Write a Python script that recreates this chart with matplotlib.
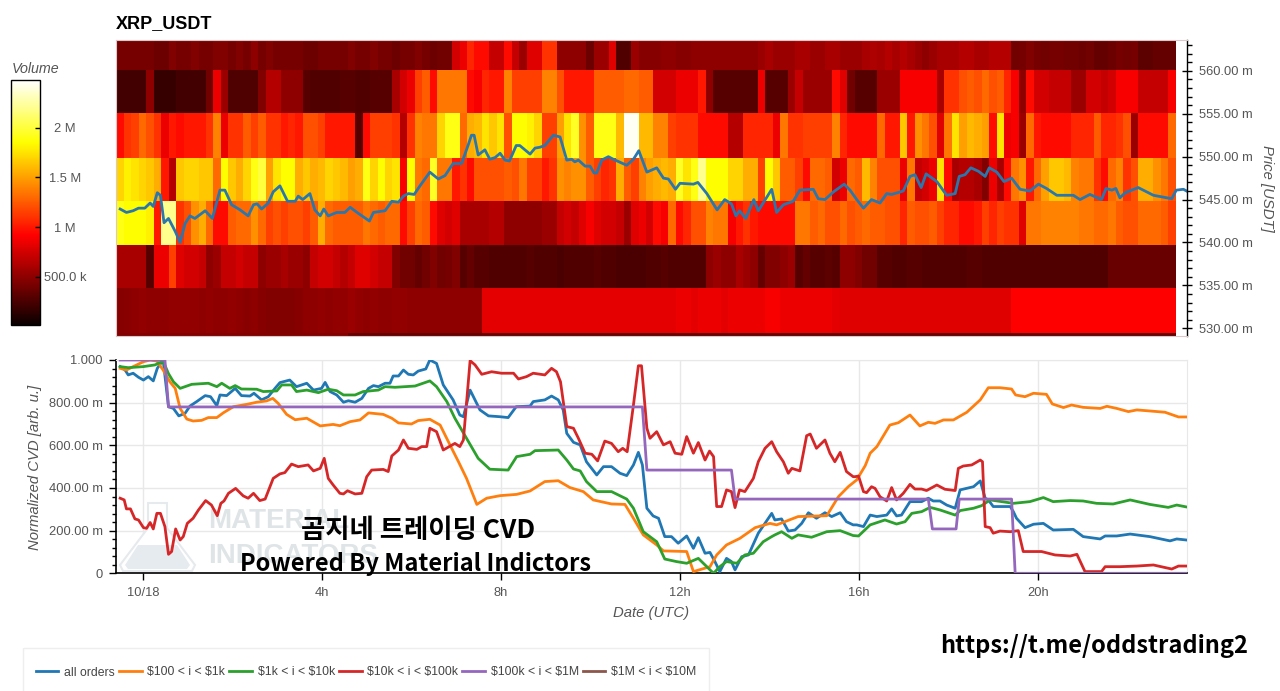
import numpy as np
import matplotlib
matplotlib.use("Agg")
import matplotlib.pyplot as plt
from matplotlib.patches import Polygon, Rectangle
from matplotlib.ticker import MultipleLocator

plt.rcParams['font.family'] = ['Liberation Sans', 'DejaVu Sans']

W, H = 1280, 691

# traded volume per 10 minute column, millions, one list per price band
vol_560 = [.42,.42,.42,.42,.42,.38,.38,.45,.42,.42,
           .45,.42,.42,.45,.45,.42,.45,.42,.5,.42,
           .45,.42,.42,.42,.42,.38,.38,.42,.42,.42,
           .42,.45,.42,.42,.45,.42,.42,.38,.42,.42,
           .45,.42,.38,.4,.4,.75,.85,1.05,.95,.95,
           .7,.7,.95,.7,.55,.8,.8,1.1,1.1,.5,
           .5,.5,.5,.38,.55,.55,.8,.28,.28,.55,
           .47,.47,.47,.5,.5,.47,.47,.5,.5,.5,
           .5,.5,.5,.5,.5,.5,.55,.6,.55,.55,
           .55,.6,.6,.55,.55,.6,.6,.55,.55,.55,
           .6,.62,.6,.65,.6,.65,.6,.55,.5,.55,
           .6,.6,.6,.65,.65,.6,.6,.65,.65,.65,
           .4,.42,.45,.42,.4,.42,.42,.4,.4,.38,
           .4,.35,.35,.38,.42,.4,.42,.32,.32,.35,.35,.35]
vol_555 = [.22,.22,.22,.22,.5,.18,.18,.18,.22,.22,
           .22,.22,.4,.85,.55,.27,.27,.27,.27,.45,
           .65,.65,.5,.5,.5,.3,.28,.28,.28,.28,
           .3,.3,.28,.28,.3,.3,.3,.6,.75,.85,
           1.15,1.25,.95,1.35,1.35,1.35,1.35,.95,.9,1.05,
           1.0,1.0,1.4,1.15,1.15,1.15,1.15,1.4,1.4,1.2,
           1.0,1.0,1.0,1.0,1.25,1.25,1.25,1.25,1.3,1.3,
           1.25,1.25,.75,.75,.75,.85,.85,.85,1.0,.5,
           .3,.3,.3,.3,.3,.3,.85,.3,.3,.3,
           .55,.7,.55,.55,.55,.55,.95,.8,.4,.3,
           .3,.3,.55,.55,.55,.9,.9,.9,.9,.9,
           .6,1.1,1.1,1.2,1.25,1.2,1.3,1.2,1.25,1.05,
           .9,.5,.95,.75,.75,.7,.7,.7,.55,.55,
           .75,.75,.7,.75,.9,.9,.9,.7,.7,.7,.7,.9]
vol_550 = [.95,1.1,1.15,1.3,1.2,1.1,.85,1.0,.95,1.0,
           1.0,1.0,1.1,1.4,.85,1.1,1.1,1.25,1.15,1.25,
           1.1,1.1,1.0,1.05,1.0,1.2,1.2,1.15,1.0,1.0,
           1.0,1.0,.3,.95,1.15,1.15,1.15,1.1,.65,1.1,
           1.4,1.35,1.35,1.7,1.9,1.9,1.3,1.55,1.6,1.75,
           1.65,1.75,1.2,1.85,1.85,1.8,1.7,1.15,1.15,1.5,
           1.75,1.95,1.45,1.25,1.9,1.9,1.9,1.6,2.45,2.45,
           1.6,1.6,1.4,1.4,1.15,1.1,1.1,1.1,.95,.95,
           .95,.95,.65,.65,1.05,1.05,1.05,1.05,.85,1.35,
           1.1,1.1,1.15,1.15,1.15,1.15,1.4,1.05,.95,.95,
           .95,.95,1.3,1.0,1.0,1.65,1.0,1.45,1.35,1.2,
           .8,1.35,1.75,1.5,1.6,1.55,1.5,.95,1.75,.85,
           .9,.55,1.3,1.0,.95,.95,.95,.95,1.05,1.05,
           1.05,1.25,1.05,1.05,1.1,1.2,.55,.95,.95,.95,.95,1.3]
vol_545 = [1.7,1.8,1.75,1.7,1.65,1.55,1.0,.65,1.65,1.7,
           1.7,1.65,1.65,1.3,1.85,1.65,1.55,1.7,1.9,2.0,
           1.5,1.75,1.85,1.85,1.55,1.65,1.55,1.6,1.7,1.65,
           1.6,1.5,1.55,1.9,1.7,1.85,1.7,1.75,.9,1.85,
           1.35,1.3,1.95,1.35,1.35,1.0,1.1,.95,1.2,1.2,
           1.2,1.2,1.25,1.2,1.35,1.15,1.15,1.0,1.1,1.45,
           1.4,1.45,1.45,1.25,1.15,1.05,1.1,1.55,1.25,1.15,
           1.4,1.5,1.55,1.6,1.55,1.95,1.75,1.9,2.2,1.85,
           1.85,1.85,1.7,1.7,1.55,1.55,1.15,1.85,1.65,1.25,
           1.25,1.15,.95,1.3,1.3,1.25,.75,.85,1.3,1.25,
           1.6,1.4,1.2,1.2,1.2,.85,1.35,.7,.75,.85,
           1.75,.95,.6,.65,.65,.6,.45,.85,.6,.95,
           1.35,1.45,1.0,1.3,1.5,1.65,1.65,1.6,1.4,1.35,
           1.35,1.1,.95,1.3,1.4,1.1,1.2,1.55,1.55,1.45,1.35,1.2]
vol_540 = [1.9,1.85,1.85,1.85,1.8,1.0,2.2,2.2,1.1,1.2,
           1.45,1.55,1.3,.95,.95,1.25,1.3,1.3,1.45,1.3,
           1.15,1.2,1.15,1.2,1.2,1.15,1.25,1.55,1.3,1.25,
           1.25,1.25,1.25,1.35,1.3,1.25,1.3,1.3,.95,1.15,
           1.3,1.25,.95,.8,.75,.8,.6,.6,.6,.6,
           .65,.65,.5,.5,.5,.5,.5,.55,.55,.7,
           .75,.7,.8,.9,.8,.75,.75,.7,.55,.8,
           .85,.75,.95,.9,1.3,.95,1.05,1.2,1.2,1.4,
           1.35,1.35,.9,1.0,1.1,1.0,.95,.95,.95,.95,
           .95,1.35,1.35,1.25,1.3,1.2,1.2,1.3,1.2,1.25,
           1.3,1.25,1.25,1.2,1.2,1.05,1.25,1.2,1.2,1.25,
           1.15,1.05,1.05,.95,.95,1.0,1.15,1.05,1.15,1.1,
           1.1,.8,1.35,1.35,1.4,1.4,1.4,1.4,1.4,1.35,
           1.35,1.3,1.3,1.35,1.25,1.2,1.2,1.3,1.3,1.3,1.25,1.15]
vol_535 = [.6,.6,.6,.6,.3,.85,.85,1.15,.8,.75,
           .75,.7,.5,.55,.7,.7,.75,.7,.7,.5,
           .55,.55,.6,.55,.55,.5,.7,.75,.75,.7,
           .65,.7,.8,.8,.75,.7,.7,.45,.4,.4,
           .35,.4,.45,.4,.42,.45,.3,.35,.3,.3,
           .28,.28,.28,.28,.28,.3,.28,.28,.28,.25,
           .28,.28,.28,.28,.3,.28,.28,.25,.25,.25,
           .25,.28,.28,.3,.28,.28,.28,.28,.28,.5,
           .55,.5,.5,.6,.55,.5,.35,.45,.45,.5,
           .55,.3,.35,.3,.3,.32,.3,.5,.5,.45,
           .4,.4,.3,.3,.28,.28,.3,.3,.28,.28,
           .28,.28,.28,.28,.3,.3,.28,.28,.28,.28,
           .28,.28,.28,.28,.28,.28,.28,.28,.28,.28,
           .28,.28,.28,.37,.37,.37,.37,.37,.37,.37,.37,.37]
vol_530 = [.47,.48,.5,.52,.5,.5,.5,.52,.52,.52,
           .52,.5,.52,.5,.5,.52,.5,.48,.5,.47,
           .45,.45,.45,.45,.47,.5,.5,.52,.5,.52,
           .52,.55,.52,.5,.52,.5,.5,.52,.52,.5,
           .5,.5,.5,.5,.5,.5,.5,.5,.5,.82,
           .82,.82,.82,.82,.82,.82,.82,.82,.82,.82,
           .82,.82,.82,.82,.82,.82,.82,.82,.82,.82,
           .82,.82,.82,.82,.82,.85,.85,.82,.85,.85,
           .85,.82,.85,.85,.85,.85,.85,.9,.9,.85,
           .85,.85,.85,.85,.85,.85,.82,.8,.8,.8,
           .8,.8,.8,.8,.8,.8,.8,.8,.8,.8,
           .8,.8,.8,.8,.8,.8,.8,.8,.8,.8,
           .92,.92,.92,.92,.92,.92,.92,.92,.92,.92,
           .92,.92,.92,.92,.92,.92,.92,.92,.92,.92,.92,.92]
vol_525 = [.45,.45,.45,.45,.45,.45,.45,.45,.45,.45,
           .45,.45,.45,.45,.45,.45,.45,.45,.45,.45,
           .45,.45,.45,.45,.45,.45,.45,.45,.45,.45,
           .45,.35,.35,.35,.35,.35,.35,.35,.35,.35,
           .35,.35,.35,.35,.35,.35,.35,.35,.35,.35,
           .35,.35,.35,.35,.35,.35,.35,.35,.35,.35,
           .35,.35,.35,.35,.35,.35,.35,.35,.35,.35,
           .35,.35,.35,.35,.35,.35,.35,.35,.35,.35,
           .35,.35,.35,.35,.35,.35,.35,.35,.35,.35,
           .35,.35,.35,.35,.35,.35,.35,.35,.35,.35,
           .35,.35,.35,.35,.35,.35,.35,.35,.35,.35,
           .35,.35,.35,.35,.35,.35,.35,.35,.35,.35,
           .35,.35,.35,.35,.35,.35,.35,.35,.35,.35,
           .35,.35,.35,.35,.35,.35,.35,.35,.35,.35,.35,.35]

price_edges = [529.1, 529.4, 534.67, 539.7, 544.85, 549.9, 555.07, 560.1, 563.6]

# price line, hours since 10/18 00:00
price_h = [-.51,-.37,-.22,-.10,.04,.16,.23,.32,.39,.47,.57,.72,.83,.94,1.05,1.16,1.39,1.55,1.72,1.83,
           1.98,2.17,2.35,2.47,2.55,2.65,2.80,2.91,3.06,3.23,3.40,3.47,3.57,3.73,3.84,3.96,4.04,4.14,4.33,4.51,
           4.63,4.81,5.06,5.15,5.41,5.56,5.71,5.82,5.93,6.06,6.19,6.41,6.60,6.75,6.93,7.12,7.27,7.34,7.40,7.49,
           7.64,7.75,7.87,7.98,8.09,8.19,8.34,8.42,8.65,8.76,8.87,8.98,9.17,9.32,9.47,9.58,9.65,9.73,9.88,9.99,
           10.08,10.14,10.25,10.40,10.51,10.81,10.96,11.08,11.26,11.48,11.63,11.74,11.90,12.0,12.30,12.40,12.60,12.83,13.0,13.15,
           13.25,13.33,13.47,13.65,13.75,14.05,14.16,14.31,14.53,14.68,14.98,15.09,15.24,15.43,15.67,15.8,15.95,16.10,16.28,16.47,
           16.62,16.73,16.99,17.14,17.25,17.39,17.50,17.74,17.96,18.15,18.24,18.37,18.50,18.67,18.82,18.91,19.08,19.24,19.41,19.60,
           19.82,20.01,20.19,20.42,20.79,20.94,21.16,21.42,21.52,21.65,21.74,21.83,21.95,22.24,22.58,22.99,23.09,23.25,23.32]
price = [543.9,543.5,543.7,544.0,544.0,544.6,544.2,545.8,545.5,542.3,542.8,541.3,540.0,542.2,543.1,542.8,543.7,542.8,546.1,546.1,
         544.4,543.8,543.1,544.4,544.5,543.9,544.6,545.9,546.6,544.8,544.8,545.4,545.0,545.7,543.8,543.1,543.9,543.1,543.5,543.5,
         544.1,543.4,542.5,543.5,543.7,544.8,544.7,545.4,545.7,545.6,546.6,548.2,547.4,547.8,549.2,549.2,551.4,552.5,552.5,550.2,
         550.8,549.7,549.9,550.4,549.6,549.5,551.3,551.3,550.3,551.0,551.1,551.3,552.5,552.3,549.6,549.7,549.4,549.6,548.9,548.9,
         548.1,548.1,549.6,550.0,549.7,549.0,549.7,550.7,548.2,548.7,547.5,547.4,546.2,546.9,546.8,547.0,545.7,543.8,545.0,544.5,
         543.1,543.7,542.8,545.0,543.7,546.2,543.5,544.4,544.8,546.1,546.2,545.1,545.0,545.9,546.8,546.1,545.0,544.0,545.0,544.6,
         545.7,545.6,546.0,547.7,547.9,546.4,548.0,547.1,545.5,545.7,547.7,547.9,548.7,548.3,547.7,548.7,548.2,547.1,547.5,546.2,
         546.0,546.8,546.3,545.5,545.5,545.0,545.6,545.0,546.3,546.1,546.3,545.2,545.8,546.4,545.5,545.1,546.1,546.2,546.0]

all_h = [-.51,-.40,-.33,-.22,-.10,.01,.12,.23,.32,.45,.57,.68,.80,.94,1.05,1.20,1.39,1.51,1.65,1.72,
         1.87,2.06,2.20,2.39,2.48,2.65,2.80,2.95,3.06,3.28,3.43,3.66,3.81,3.99,4.07,4.18,4.33,4.48,4.59,4.74,
         4.89,5.04,5.15,5.26,5.41,5.52,5.59,5.71,5.82,5.93,6.04,6.15,6.32,6.41,6.56,6.71,6.93,7.08,7.16,7.31,
         7.53,7.72,7.98,8.16,8.34,8.65,8.72,8.98,9.13,9.28,9.39,9.47,9.62,9.77,9.91,10.14,10.29,10.47,10.66,10.81,
         10.96,11.07,11.16,11.26,11.40,11.52,11.66,11.81,11.96,12.15,12.30,12.41,12.56,12.67,12.78,12.89,13.04,13.15,13.23,13.38,
         13.53,13.75,14.05,14.12,14.27,14.42,14.57,14.72,14.87,15.05,15.24,15.39,15.58,15.72,15.87,15.95,16.10,16.25,16.40,16.62,
         16.73,16.84,16.95,17.14,17.40,17.55,17.66,17.81,17.96,18.15,18.26,18.56,18.71,18.82,18.89,19.0,19.38,19.45,19.52,19.71,
         19.90,20.12,20.34,20.79,21.01,21.39,21.50,21.76,22.06,22.50,22.95,23.10,23.32]
all_orders = [.969,.953,.930,.938,.919,.906,.922,.902,.961,1.0,.781,.773,.738,.75,.784,.805,.833,.828,.786,.836,
              .833,.867,.833,.831,.844,.813,.828,.867,.894,.906,.875,.891,.859,.867,.895,.852,.836,.802,.809,.802,
              .820,.867,.880,.875,.891,.891,.925,.925,.953,.933,.930,.948,.958,1.0,.984,.883,.813,.742,.734,.859,
              .766,.738,.734,.730,.781,.784,.805,.813,.831,.813,.766,.656,.614,.602,.523,.461,.50,.50,.469,.458,
              .508,.567,.508,.305,.269,.258,.172,.172,.141,.175,.117,.167,.094,.098,.055,.008,.070,.055,.016,.078,
              .086,.188,.281,.25,.255,.198,.203,.234,.284,.258,.284,.266,.284,.242,.227,.227,.219,.273,.266,.273,
              .302,.269,.273,.336,.336,.352,.339,.339,.320,.305,.391,.406,.433,.352,.344,.313,.313,.289,.258,.214,
              .230,.234,.203,.206,.172,.161,.175,.175,.184,.172,.152,.161,.156]

o100_h = [-.51,-.37,-.22,.01,.16,.31,.45,.60,.72,.83,.98,1.12,1.31,1.46,1.65,1.80,2.02,2.32,2.54,2.76,
          2.90,3.02,3.21,3.40,3.66,3.96,4.25,4.40,4.63,4.85,5.04,5.37,5.56,5.71,6.0,6.15,6.41,6.64,6.86,7.05,
          7.23,7.46,7.68,7.98,8.35,8.65,8.98,9.28,9.54,9.84,10.06,10.47,10.77,10.96,11.18,11.48,11.63,12.15,12.30,12.67,
          12.82,13.04,13.34,13.68,14.01,14.16,14.38,14.64,15.28,15.54,15.76,15.95,16.14,16.25,16.40,16.69,16.88,17.14,17.36,17.55,
          17.70,17.89,18.11,18.41,18.71,18.89,19.15,19.41,19.50,19.71,19.90,20.19,20.32,20.57,20.75,21.01,21.39,21.54,21.76,22.02,
          22.21,22.50,22.84,23.14,23.32]
o100 = [.961,.953,.969,.992,1.0,.995,.953,.898,.867,.773,.723,.714,.717,.730,.730,.753,.781,.792,.802,.808,
        .820,.797,.745,.720,.727,.691,.698,.692,.711,.719,.752,.745,.727,.705,.700,.716,.722,.695,.602,.523,
        .445,.323,.352,.364,.370,.386,.430,.434,.402,.383,.344,.325,.323,.258,.180,.133,.105,.102,.008,.031,
        .086,.133,.164,.214,.234,.227,.245,.266,.270,.359,.406,.438,.505,.563,.594,.695,.706,.742,.691,.708,
        .703,.719,.719,.755,.813,.870,.870,.864,.836,.828,.844,.839,.794,.777,.789,.778,.773,.783,.773,.758,
        .766,.761,.755,.733,.733]

o1k_h = [-.51,-.33,.01,.27,.45,.57,.68,.83,1.09,1.46,1.65,1.76,1.94,2.06,2.20,2.54,2.69,2.99,3.10,3.32,
         3.43,3.66,3.92,4.14,4.33,4.48,4.74,4.92,5.26,5.41,5.63,6.08,6.41,6.56,6.79,6.97,7.23,7.49,7.75,8.16,
         8.35,8.65,8.76,9.28,9.47,9.62,9.77,9.91,10.14,10.47,10.81,10.96,11.18,11.48,11.66,11.92,12.15,12.41,12.75,12.89,
         13.04,13.27,13.45,13.64,13.86,14.05,14.12,14.27,14.50,14.64,14.94,15.28,15.58,15.87,15.99,16.25,16.58,16.84,17.03,17.18,
         17.40,17.59,17.81,18.15,18.26,18.56,18.74,18.93,19.45,19.82,20.12,20.34,20.72,21.01,21.31,21.68,22.06,22.50,22.91,23.10,23.32]
o1k = [.969,.964,.969,.977,.995,.936,.898,.867,.886,.891,.875,.891,.867,.880,.864,.863,.852,.855,.883,.883,
       .852,.859,.847,.863,.856,.836,.836,.852,.859,.875,.872,.878,.902,.875,.805,.727,.633,.539,.488,.484,
       .547,.558,.575,.578,.531,.489,.480,.430,.383,.383,.348,.305,.195,.148,.067,.055,.047,.070,0,.031,
       .055,.047,.086,.094,.148,.172,.180,.195,.164,.180,.169,.195,.200,.177,.175,.227,.25,.231,.242,.281,
       .289,.309,.297,.273,.294,.305,.317,.344,.328,.336,.355,.336,.341,.339,.328,.325,.344,.323,.309,.320,.311]

o10k_h = [-.51,-.42,-.37,-.28,-.18,-.10,.01,.08,.16,.23,.31,.39,.49,.57,.64,.73,.83,.90,.99,1.12,
          1.24,1.40,1.53,1.66,1.74,1.81,1.91,2.07,2.24,2.35,2.47,2.61,2.73,2.91,3.06,3.17,3.32,3.47,3.69,3.81,
          3.96,4.05,4.14,4.25,4.40,4.48,4.57,4.74,4.89,5.0,5.11,5.37,5.48,5.56,5.71,5.82,5.93,6.12,6.23,6.34,
          6.41,6.56,6.71,6.97,7.08,7.16,7.31,7.42,7.57,7.79,8.01,8.28,8.39,8.57,8.72,8.98,9.13,9.24,9.33,9.47,
          9.62,9.73,9.88,10.03,10.16,10.32,10.47,10.62,10.72,10.82,10.96,11.07,11.14,11.26,11.33,11.48,11.63,11.78,11.89,12.04,
          12.15,12.30,12.41,12.56,12.66,12.75,12.82,12.93,13.04,13.15,13.23,13.33,13.45,13.64,13.75,13.90,14.05,14.16,14.31,14.42,
          14.50,14.68,14.83,14.91,15.05,15.24,15.35,15.46,15.58,15.72,15.87,15.91,15.99,16.10,16.17,16.28,16.36,16.47,16.62,16.73,
          16.84,16.99,17.14,17.25,17.40,17.51,17.74,17.92,18.15,18.22,18.33,18.52,18.71,18.76,18.82,18.93,19.0,19.15,19.38,19.56,
          19.67,20.08,20.38,20.72,20.87,21.05,21.20,21.42,21.50,21.83,22.21,22.58,22.99,23.14,23.32]
o10k = [.352,.344,.302,.302,.255,.250,.214,.211,.238,.208,.281,.281,.219,.089,.102,.208,.156,.172,.234,.258,
        .297,.341,.320,.270,.328,.339,.375,.398,.363,.352,.375,.341,.348,.445,.466,.472,.512,.500,.508,.480,
        .492,.539,.445,.414,.375,.372,.387,.372,.375,.453,.484,.487,.477,.550,.578,.625,.586,.581,.594,.594,
        .680,.664,.578,.609,.594,.625,.997,.977,.933,.945,.938,.938,.911,.922,.938,.930,.961,.945,.898,.688,
        .680,.633,.563,.558,.527,.620,.609,.570,.586,.570,.789,.973,.973,.680,.633,.664,.602,.617,.563,.558,
        .641,.563,.613,.531,.573,.547,.313,.313,.391,.383,.308,.391,.383,.445,.523,.586,.617,.570,.523,.469,
        .492,.480,.645,.653,.586,.625,.563,.523,.567,.477,.453,.453,.456,.383,.378,.406,.398,.359,.339,.402,
        .344,.375,.417,.395,.395,.388,.414,.394,.388,.492,.503,.508,.531,.523,.219,.214,.188,.198,.195,.2,
        .102,.102,.086,.081,.089,.008,.008,.008,.031,.031,.034,.039,.020,.034,.034]

o100k_h = [-.51,.49,.57,11.16,11.26,13.15,13.23,17.55,17.64,18.17,18.24,19.41,19.49,23.32]
o100k = [1.0,1.0,.78,.78,.484,.484,.348,.348,.208,.208,.348,.348,0,0]

# this bucket had no visible trades, only the legend entry shows
o1m_h = []
o1m = []

hour_ticks = [0, 4, 8, 12, 16, 20]
hour_labels = ['10/18', '4h', '8h', '12h', '16h', '20h']
cvd_ticks = [0, .2, .4, .6, .8, 1]
cvd_labels = ['0', '200.00 m', '400.00 m', '600.00 m', '800.00 m', '1.000']
price_ticks = [530, 535, 540, 545, 550, 555, 560]
price_labels = ['530.00 m', '535.00 m', '540.00 m', '545.00 m', '550.00 m', '555.00 m', '560.00 m']
vol_ticks = [.5, 1, 1.5, 2]
vol_labels = ['500.0 k', '1 M', '1.5 M', '2 M']
legend_labels = ['all orders', r'\$100 < i < \$1k', r'\$1k < i < \$10k', r'\$10k < i < \$100k', r'\$100k < i < \$1M', r'\$1M < i < \$10M']
colors = ['#1f77b4', '#ff7f0e', '#2ca02c', '#d62728', '#9467bd', '#8c564b']


def rect(left, top, right, bottom):
    return [left / W, 1 - bottom / H, (right - left) / W, (bottom - top) / H]


def fx(x):
    return x / W


def fy(y):
    return 1 - y / H


fig = plt.figure(figsize=(W / 100, H / 100), dpi=100)
grey = '#555555'
xlim = (-.603, 23.33)

# heatmap
ax = fig.add_axes(rect(116, 40, 1187, 336))
volumes = np.array([vol_525, vol_530, vol_535, vol_540, vol_545, vol_550, vol_555, vol_560])
x_edges = -.592 + np.arange(volumes.shape[1] + 1) / 6
mesh = ax.pcolormesh(x_edges, price_edges, volumes, cmap='hot', vmin=.016, vmax=2.48)
ax.plot(price_h, price, color='#2a77ad', lw=2)
ax.set_xlim(xlim)
ax.set_ylim(529.1, 563.6)
ax.set_xticks([])
ax.yaxis.tick_right()
ax.set_yticks(price_ticks)
ax.set_yticklabels(price_labels, color=grey, fontsize=9.3)
ax.yaxis.set_minor_locator(MultipleLocator(1))
ax.tick_params(axis='y', which='major', direction='inout', length=7.2, width=1, pad=5)
ax.tick_params(axis='y', which='minor', direction='out', length=3.6, width=1)
for side in ['top', 'bottom', 'left']:
    ax.spines[side].set_color('#dcc8c8')
    ax.spines[side].set_linewidth(.8)
ax.spines['right'].set_linewidth(1)
fig.text(fx(116), fy(24), 'XRP_USDT', fontsize=13, fontweight='bold', va='center', ha='left')
fig.text(fx(1267), fy(188), 'Price [USDT]', fontsize=10.7, style='italic', color=grey, rotation=270, va='center', ha='center')

# colorbar
cax = fig.add_axes(rect(10.5, 80, 40, 325))
cb = fig.colorbar(mesh, cax=cax)
cb.set_ticks(vol_ticks)
cb.set_ticklabels(vol_labels)
cb.ax.tick_params(direction='in', length=3.6, width=1, pad=18, labelsize=9.3, labelcolor=grey)
for lab in cb.ax.get_yticklabels():
    lab.set_ha('center')
cb.outline.set_linewidth(1)
fig.text(fx(36), fy(69), 'Volume', fontsize=10.3, style='italic', color=grey, ha='center', va='center')

# cvd lines
ax2 = fig.add_axes(rect(116, 360, 1187, 573.3))
ax2.set_axisbelow(True)
ax2.grid(color='#e8e8e8', lw=1)
series = [(all_h, all_orders), (o100_h, o100), (o1k_h, o1k), (o10k_h, o10k), (o100k_h, o100k), (o1m_h, o1m)]
handles = []
for (xs, ys), c in zip(series, colors):
    line, = ax2.plot(xs, ys, color=c, lw=2, zorder=3)
    handles.append(line)
ax2.set_xlim(xlim)
ax2.set_ylim(0, 1)
ax2.set_xticks(hour_ticks)
ax2.set_xticklabels(hour_labels, color=grey, fontsize=9.3)
ax2.set_yticks(cvd_ticks)
ax2.set_yticklabels(cvd_labels, color=grey, fontsize=9.3)
ax2.yaxis.set_minor_locator(MultipleLocator(.04))
ax2.tick_params(axis='y', which='major', direction='out', length=5, width=1, pad=4.5)
ax2.tick_params(axis='y', which='minor', direction='out', length=3, width=1)
ax2.tick_params(axis='x', which='major', direction='out', length=5, width=1, pad=5)
for side in ['top', 'right']:
    ax2.spines[side].set_color('#e8e8e8')
ax2.spines['left'].set_linewidth(1.2)
ax2.spines['bottom'].set_linewidth(1.2)
fig.text(fx(35), fy(467), 'Normalized CVD [arb. u.]', fontsize=10.7, style='italic', color=grey, rotation=90, va='center', ha='center')
fig.text(fx(651), fy(613), 'Date (UTC)', fontsize=10.7, style='italic', color=grey, va='center', ha='center')

# watermark behind the lines
flask = [(148, 503), (167, 503), (167, 528), (195, 565), (192, 571), (123, 571), (120, 565), (148, 528)]
water = [(138, 545), (177, 545), (190, 565), (187, 569), (128, 569), (125, 565)]
ax2.add_patch(Polygon([(fx(a), fy(b)) for a, b in flask], closed=True, transform=fig.transFigure,
                      facecolor='white', edgecolor='#e6eaed', lw=1.5, zorder=1, clip_on=False))
ax2.add_patch(Polygon([(fx(a), fy(b)) for a, b in water], closed=True, transform=fig.transFigure,
                      facecolor='#e5ebef', edgecolor='none', zorder=1, clip_on=False))
wm_font = ['Liberation Sans Narrow', 'Liberation Sans']
ax2.text(fx(208), fy(521), 'MATERIAL', transform=fig.transFigure, fontsize=20, fontweight='bold', family=wm_font,
         color='#dfe4e7', va='center', ha='left', zorder=1)
ax2.text(fx(208), fy(556), 'INDICATORS', transform=fig.transFigure, fontsize=20, fontweight='bold', family=wm_font,
         color='#dfe4e7', va='center', ha='left', zorder=1)

# overlay captions
kr_font = ['Noto Sans CJK KR', 'DejaVu Sans']
fig.text(fx(418), fy(530), '곰지네 트레이딩 CVD', fontsize=19, fontweight='bold', family=kr_font, ha='center', va='center', zorder=5)
fig.text(fx(415), fy(564), 'Powered By Material Indictors', fontsize=17, fontweight='bold', family=kr_font, ha='center', va='center', zorder=5)
fig.text(fx(1094), fy(646), 'https://t.me/oddstrading2', fontsize=17, fontweight='bold', family=kr_font, ha='center', va='center', zorder=5)

# legend box runs off the bottom of the picture
fig.add_artist(Rectangle((fx(23), fy(700)), 686 / W, 52 / H, transform=fig.transFigure,
                         facecolor='white', edgecolor='#eeeeee', lw=1))
fig.legend(handles, legend_labels, loc='upper left', bbox_to_anchor=(fx(36), fy(666.5)), ncol=6,
           fontsize=8.8, frameon=False, borderaxespad=0, borderpad=0,
           handlelength=1.84, handletextpad=.48, columnspacing=.33, labelcolor='#444444')

fig.savefig('out.png', dpi=100)
